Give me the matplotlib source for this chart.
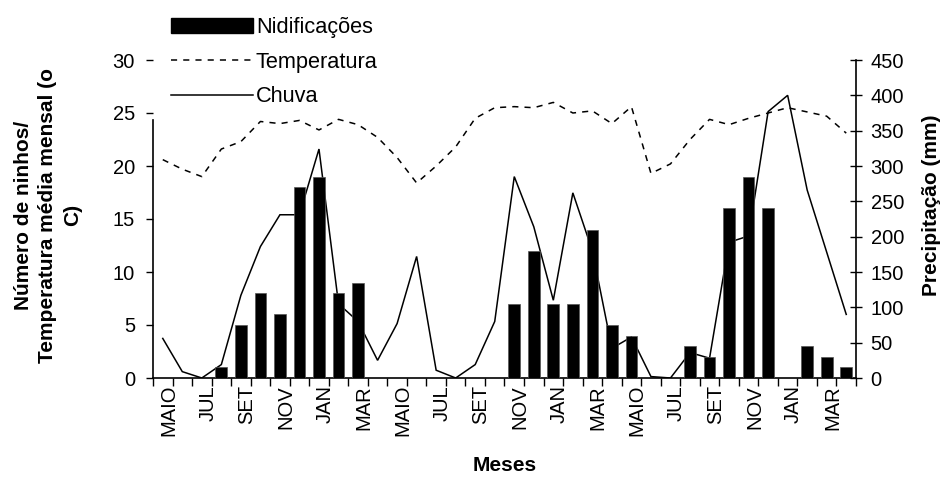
import matplotlib
matplotlib.use("Agg")
import matplotlib.pyplot as plt
import numpy as np
from matplotlib.patches import Patch
from matplotlib.lines import Line2D

plt.rcParams['font.family'] = ['Liberation Sans', 'DejaVu Sans']

month_labels = ['MAIO', 'JUL', 'SET', 'NOV', 'JAN', 'MAR'] * 3

nests = [0, 0, 0, 1, 5, 8, 6, 18, 19, 8, 9, 0,
         0, 0, 0, 0, 0, 0, 7, 12, 7, 7, 14, 5,
         4, 0, 0, 3, 2, 16, 19, 16, 0, 3, 2, 1]

temperature = [20.6, 19.7, 19.0, 21.6, 22.3, 24.2, 24.0, 24.3, 23.4, 24.4, 23.9, 22.7,
               20.8, 18.4, 20.0, 21.8, 24.5, 25.5, 25.6, 25.5, 26.0, 25.0, 25.2, 24.0,
               25.6, 19.3, 20.2, 22.5, 24.4, 23.9, 24.5, 25.0, 25.5, 25.1, 24.7, 23.1]

rain = [56, 9, 0, 19, 117, 186, 231, 231, 324, 105, 80, 25,
        77, 172, 11, 0, 19, 80, 285, 214, 110, 262, 180, 42,
        58, 2, 0, 36, 28, 192, 201, 377, 400, 266, 178, 90]

x = np.arange(len(nests))

fig = plt.figure(figsize=(9.45, 4.8), dpi=100)
ax = fig.add_axes([153/945, 1-378/480, (856-153)/945, (378-60)/480])
ax2 = ax.twinx()

# rain on secondary axis (drawn beneath the bars)
ax2.plot(x, rain, color='black', lw=1.1, solid_joinstyle='miter')
ax2.set_ylim(0, 450)
ax2.set_yticks(np.arange(0, 451, 50))

# primary axis drawn on top
ax.set_zorder(ax2.get_zorder() + 1)
ax.patch.set_visible(False)

ax.bar(x, nests, width=0.6, color='black', edgecolor='#555555', linewidth=0.5, zorder=3)
ax.plot(x, temperature, color='black', lw=1.1, linestyle=(0, (4, 4)), zorder=2)
ax.set_ylim(0, 30)
ax.set_xlim(-0.5, 35.5)
ax.set_yticks(np.arange(0, 31, 5))

# labels sit slightly right of the category centres, as in the original
ax.set_xticks(x[::2] + 0.3)
ax.set_xticklabels(month_labels, rotation=90, fontsize=14.5)
ax.set_xticks(np.arange(-0.5, 36, 1), minor=True)
ax.tick_params(axis='x', which='major', length=0, pad=5)
ax.tick_params(axis='x', which='minor', length=6, width=1, direction='out')
ax.tick_params(axis='y', labelsize=14.5, length=5, width=1, direction='out', pad=8)
ax2.tick_params(axis='y', labelsize=14.5, length=9, width=1, direction='inout', pad=6)

for s in ['top', 'right']:
    ax.spines[s].set_visible(False)
ax.spines['left'].set_bounds(0, 24.3)
ax.spines['left'].set_linewidth(1.2)
ax.spines['bottom'].set_linewidth(1.2)
for s in ['top', 'left', 'bottom']:
    ax2.spines[s].set_visible(False)
ax2.spines['right'].set_linewidth(1.2)

handles = [Patch(facecolor='black', edgecolor='black'),
           Line2D([], [], color='black', lw=1.1, linestyle=(0, (4, 4))),
           Line2D([], [], color='black', lw=1.1)]
labels = ['Nidificações', 'Temperatura', 'Chuva']
ax.legend(handles, labels, loc='upper left', bbox_to_anchor=(154/945, 1.0),
          bbox_transform=fig.transFigure, frameon=False, fontsize=15.7,
          handlelength=3.75, handletextpad=0.12, labelspacing=0.62, borderpad=0.3)

fig.text(48/945, 0.552, 'Número de ninhos/\nTemperatura média mensal (o\nC)',
         rotation=90, ha='center', va='center', multialignment='center',
         fontsize=15, fontweight='bold', linespacing=1.35)
fig.text(932/945, 0.573, 'Precipitação (mm)', rotation=90, ha='center', va='center',
         fontsize=15, fontweight='bold')
fig.text(505/945, 0.031, 'Meses', ha='center', va='center', fontsize=15, fontweight='bold')

fig.savefig('out.png', dpi=100)
